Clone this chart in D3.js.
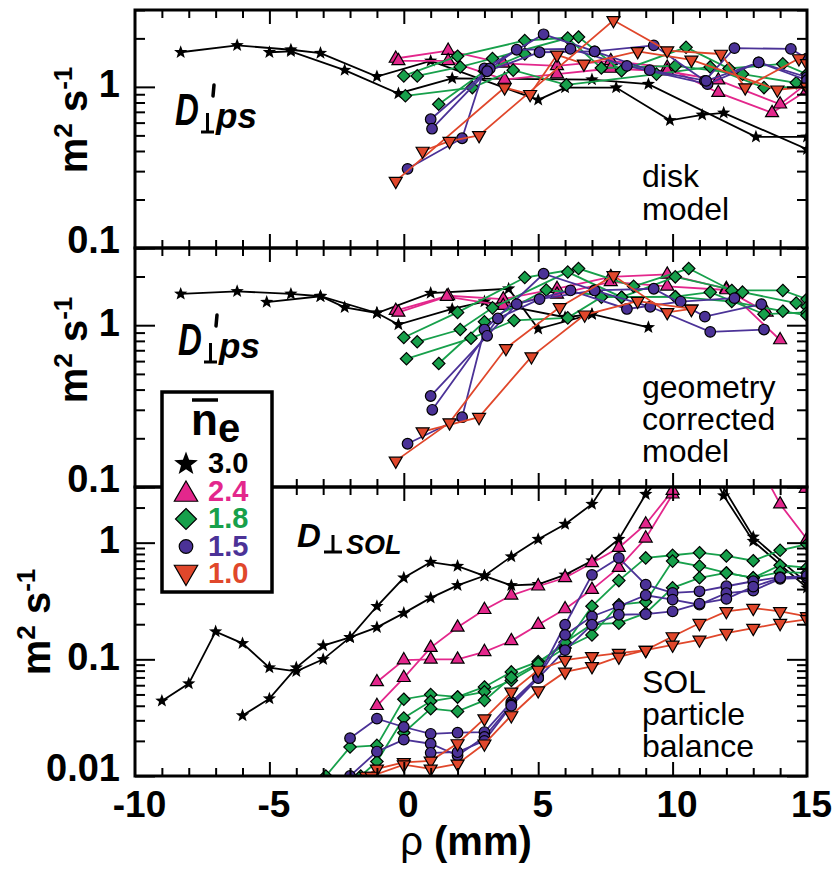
<!DOCTYPE html>
<html>
<head>
<meta charset="utf-8">
<script src="https://cdn.jsdelivr.net/npm/d3@7"></script>
<style>
  body { margin: 0; background: #fff; }
  svg { display: block; font-family: "Liberation Sans", Arial, Helvetica, sans-serif; }
</style>
</head>
<body>
<svg id="chart" width="839" height="874"></svg>
<script>
// line-averaged density of each group, in legend order
const densities = ['3.0', '2.4', '1.8', '1.5', '1.0'];
const xTicks = [-10, -5, 0, 5, 10, 15];

// --- disk model panel: [rho (mm), D (m^2/s)] ---
const disk30 = [
  [[-8.3, 1.64], [-6.2, 1.81], [-4.2, 1.70], [-3.1, 1.62], [-1.0, 1.16], [1.0, 1.45], [5.0, 0.83], [6.0, 0.99], [7.9, 0.99], [9.9, 0.62], [11.1, 0.67], [11.9, 0.69], [15, 0.41]],
  [[-5.0, 1.64], [-4.2, 1.66], [-2.2, 1.27], [-0.2, 0.91], [1.8, 1.13], [7.0, 1.11], [9.1, 1.04], [13.1, 0.49], [15, 0.49]]
];
const disk24 = [
  [[-0.3, 1.50], [1.65, 1.68], [3.7, 1.40], [5.7, 1.35], [7.7, 1.45], [9.8, 1.32], [11.7, 0.92], [13.7, 0.69], [15, 0.95]],
  [[-0.2, 1.45], [1.65, 1.45], [3.75, 1.11], [5.7, 1.20], [7.7, 1.30], [9.8, 1.25], [11.7, 1.10], [14.0, 0.78], [15, 1.05]]
];
const disk18 = [
  [[0, 1.17], [2.0, 1.55], [4.5, 1.94], [6.5, 2.04], [8.1, 1.26], [10.5, 1.76], [12.1, 1.30], [14.1, 1.39], [15, 1.2]],
  [[0.5, 1.17], [2.1, 1.33], [3.3, 1.50], [6.1, 2.01], [7.35, 1.31], [10.1, 1.35], [12.6, 1.20], [14.6, 1.06], [15, 1.05]],
  [[0.06, 0.88], [2.55, 0.99], [4.07, 1.27], [6.05, 1.03], [9.4, 1.20], [11.4, 1.33], [13.4, 0.99], [15, 1.0]],
  [[1.3, 0.78], [3.0, 1.25], [4.5, 1.6]]
];
const disk15 = [
  [[0.14, 0.31], [2.17, 0.48], [3.0, 1.30], [5.2, 2.12], [7.1, 1.66], [9.3, 1.81], [11.2, 1.09], [12.3, 1.74], [14.4, 1.72], [15, 1.5]],
  [[1.0, 0.63], [3.2, 1.3], [4.2, 1.70], [6.2, 1.72], [8.3, 1.35], [11.3, 1.04], [13.2, 1.42], [15, 1.15]],
  [[1.05, 0.55], [3.1, 1.25], [5.05, 1.64], [7.1, 1.66], [9.15, 1.27], [11.25, 1.09], [13.2, 1.42], [15, 1.1]]
];
const disk10 = [
  [[0.7, 0.40], [1.7, 0.46], [2.8, 0.50], [7.8, 2.59], [9.8, 1.68], [11.8, 1.60], [12.7, 0.99], [14.7, 1.50], [15, 1.4]],
  [[-0.3, 0.26], [3.75, 0.99], [4.7, 0.90], [5.7, 1.58], [6.7, 1.39], [8.7, 1.66], [10.7, 1.47], [13.9, 0.96], [15, 1.0]]
];

// --- geometry corrected model panel ---
const geom30 = [
  [[-8.3, 1.56], [-6.2, 1.62], [-4.2, 1.56], [-3.1, 1.51], [-2.2, 1.29], [-1.0, 1.19], [1.0, 1.58], [3.9, 1.68], [5.0, 0.95], [7.0, 1.17], [9.1, 0.97]],
  [[-5.1, 1.39], [-3.1, 1.51], [-1.0, 1.19], [-0.2, 1.01], [1.8, 1.26], [3.0, 1.40], [6.0, 1.12], [7.0, 1.17]]
];
const geom24 = [
  [[-0.3, 1.23], [1.65, 1.52], [3.7, 1.45], [5.7, 1.68], [7.7, 1.99], [9.8, 2.06], [12.0, 1.68], [14.0, 0.81]],
  [[-0.2, 1.20], [1.6, 1.50], [3.7, 1.32], [5.7, 1.55], [7.7, 1.85], [9.8, 1.74], [12.0, 1.65], [13.5, 1.2]]
];
const geom18 = [
  [[0, 0.84], [2.0, 1.20], [4.5, 1.97], [6.5, 2.24], [8.55, 1.74], [10.6, 2.24], [12.2, 1.64], [14.1, 1.64], [15, 1.45]],
  [[0.5, 0.79], [2.1, 0.94], [3.3, 1.28], [6.1, 2.13], [8.1, 1.49], [10.1, 1.99], [12.6, 1.60], [14.6, 1.37], [15, 1.3]],
  [[0.1, 0.62], [2.5, 0.83], [4.1, 1.07], [6.1, 1.11], [7.35, 1.49], [10.1, 1.50], [11.4, 1.60], [13.4, 1.17], [15, 1.2]],
  [[1.3, 0.58], [3.0, 1.05], [5.3, 1.65], [8.1, 1.49], [10.1, 1.5], [12.2, 1.4], [14.1, 1.22], [15, 1.15]]
];
const geom15 = [
  [[0.14, 0.185], [2.17, 0.27], [3.0, 0.94], [5.2, 2.08], [7.1, 1.64], [9.3, 1.68], [11.2, 1.13], [13.3, 1.35]],
  [[1.0, 0.365], [3.1, 0.86], [4.2, 1.35], [6.2, 1.64], [8.3, 1.26], [10.3, 1.40], [12.3, 1.47]],
  [[1.06, 0.30], [3.5, 1.10], [5.05, 1.45], [7.1, 1.64], [9.17, 1.30], [11.4, 0.91], [13.4, 0.94]]
];
const geom10 = [
  [[-0.3, 0.145], [1.7, 0.25], [3.8, 0.72], [5.8, 1.29], [7.8, 2.03], [9.8, 1.20], [10.7, 1.26]],
  [[0.7, 0.22], [2.8, 0.27], [4.75, 0.64], [6.73, 1.16], [8.7, 1.41], [10.7, 1.26]]
];

// --- SOL particle balance panel ---
const sol30 = [
  [[-9.0, 0.044], [-8.0, 0.062], [-7.0, 0.173], [-6.0, 0.137], [-5.0, 0.085], [-4.0, 0.079], [-3.0, 0.10], [-2.0, 0.154], [-1.0, 0.285], [0, 0.50], [1.0, 0.68], [2.0, 0.63], [3.0, 0.52], [4.0, 0.43], [5.0, 0.44], [6.0, 0.53], [7.0, 0.70], [8.0, 1.07], [9.0, 2.6], [9.5, 3.5]],
  [[-6.0, 0.033], [-5.0, 0.046], [-4.0, 0.085], [-3.0, 0.131], [-2.0, 0.154], [-1.0, 0.188], [0, 0.249], [1.0, 0.336], [2.0, 0.43], [3.0, 0.52], [4.0, 0.76], [5.0, 1.07], [6.0, 1.44], [7.0, 2.14], [7.6, 3.5]],
  [[11.6, 3.5], [11.9, 2.53], [13.0, 1.03], [15, 0.41]],
  [[11.7, 3.5], [13.0, 1.12], [15, 0.45]]
];
const sol24 = [
  [[-1.0, 0.064], [0, 0.0986], [1.0, 0.1], [2.0, 0.1], [3.0, 0.116], [4.0, 0.144], [5.0, 0.198], [6.0, 0.27], [7.0, 0.396], [8.0, 0.61], [9.0, 1.09], [10.0, 2.6], [10.2, 3.5]],
  [[-1.0, 0.040], [0, 0.0695], [1.0, 0.126], [2.0, 0.188], [3.0, 0.266], [4.0, 0.354], [5.0, 0.423], [6.0, 0.50], [7.0, 0.67], [8.0, 0.905], [9.0, 1.44], [10.0, 2.79], [10.1, 3.5]],
  [[13.5, 3.5], [14.0, 2.14], [15.0, 1.07]],
  [[14.95, 2.9]]
];
const sol18 = [
  [[-2.9, 0.01], [-2.0, 0.0177], [-1.0, 0.0183], [0, 0.0455], [1.0, 0.0499], [2.0, 0.0476], [3.0, 0.058], [4.0, 0.078], [5.0, 0.0955], [6.0, 0.133], [7.0, 0.285], [8.0, 0.473], [9.0, 0.74], [10, 0.78], [11, 0.82], [12, 0.77], [13, 0.70], [14, 0.86], [15, 0.97]],
  [[-1.6, 0.01], [-1.0, 0.0133], [0, 0.0314], [1.0, 0.0437], [2.0, 0.0476], [3.0, 0.0527], [4.0, 0.066], [5.0, 0.09], [6.0, 0.125], [7.0, 0.162], [8.0, 0.294], [9.0, 0.31], [10, 0.695], [11, 0.63], [12, 0.55], [13, 0.5], [14, 0.64], [15, 0.61]],
  [[0, 0.0235], [1.0, 0.0378], [2.0, 0.0358], [3.0, 0.0445], [4.0, 0.07], [5.0, 0.092], [6.0, 0.14], [7.0, 0.2], [8.0, 0.204], [9.0, 0.249], [10, 0.41], [11, 0.5], [12, 0.55], [13, 0.5], [14, 0.56], [15, 0.55]]
];
const sol15 = [
  [[-2.0, 0.0211], [-1.0, 0.031], [0, 0.0263], [1.0, 0.023], [2.0, 0.0235], [3.0, 0.0238], [4.0, 0.043], [5.0, 0.071], [6.0, 0.198], [7.0, 0.53], [8.0, 0.74], [9.0, 0.437], [10, 0.371], [11, 0.383], [12, 0.423], [13, 0.467], [14, 0.506], [15, 0.51]],
  [[-2.0, 0.01], [-1.0, 0.0162], [0, 0.0205], [1.0, 0.0189], [2.0, 0.015], [3.0, 0.0216], [4.0, 0.041], [5.0, 0.07], [6.0, 0.162], [7.0, 0.233], [8.0, 0.285], [9.0, 0.354], [10, 0.325], [11, 0.294], [12, 0.37], [13, 0.388], [14, 0.49], [15, 0.5]],
  [[1.0, 0.0158], [2.0, 0.016], [3.0, 0.02], [4.0, 0.04], [5.0, 0.069], [6.0, 0.12], [7.0, 0.198], [8.0, 0.241], [9.0, 0.244], [10, 0.258], [11, 0.30], [12, 0.33], [13, 0.42], [14, 0.5], [15, 0.52]]
];
const sol10 = [
  [[-1.4, 0.01], [-1.0, 0.0115], [0, 0.0131], [1.0, 0.0135], [2.0, 0.019], [3.0, 0.031], [4.0, 0.0526], [5.0, 0.081], [6.0, 0.0986], [7.0, 0.106], [8.0, 0.113], [9.0, 0.12], [10, 0.157], [11, 0.204], [12, 0.258], [13, 0.275], [14, 0.258], [15, 0.233]],
  [[-1.2, 0.01], [0, 0.0125], [1.0, 0.0115], [2.0, 0.0127], [3.0, 0.0189], [4.0, 0.033], [5.0, 0.054], [6.0, 0.078], [7.0, 0.087], [8.0, 0.105], [9.0, 0.12], [10, 0.133], [11, 0.147], [12, 0.168], [13, 0.185], [14, 0.204], [15, 0.22]]
];

// styles per density group
const colors = ['#000000', '#e3278c', '#17a04b', '#4b3297', '#e0472b'];
const shapes = ['star', 'triUp', 'diamond', 'circle', 'triDown'];
const plotSize = { star: 7, triUp: 7.5, diamond: 6.2, circle: 5.3, triDown: 7.5 };
const legendSize = { star: 12.5, triUp: 13.5, diamond: 10.5, circle: 6.8, triDown: 13.5 };

const panels = [
  { id: 'disk', top: 10, bottom: 248, domain: [0.1, 3], groups: [disk30, disk24, disk18, disk15, disk10],
    notes: ['disk', 'model'], noteY: 187, noteGap: 33, titleX: 87, titleY: 120 },
  { id: 'geom', top: 248, bottom: 487, domain: [0.1, 3], groups: [geom30, geom24, geom18, geom15, geom10],
    notes: ['geometry', 'corrected', 'model'], noteY: 398, noteGap: 32, titleX: 87, titleY: 350 },
  { id: 'sol', top: 487, bottom: 776, domain: [0.01, 3], groups: [sol30, sol24, sol18, sol15, sol10],
    notes: ['SOL', 'particle', 'balance'], noteY: 693, noteGap: 32, titleX: 50, titleY: 622 }
];

const svg = d3.select('#chart');
const defs = svg.append('defs');
const x = d3.scaleLinear().domain([-10, 15]).range([135, 807]);
const [x0, x1] = x.range();

const markerPath = (shape, r) => {
  if (shape === 'star') {
    const pts = d3.range(10).map(i => {
      const a = -Math.PI / 2 + i * Math.PI / 5;
      const rr = i % 2 ? r * 0.42 : r;
      return [rr * Math.cos(a), rr * Math.sin(a)];
    });
    return 'M' + pts.join('L') + 'Z';
  }
  if (shape === 'triUp') return `M0,${-r}L${r * 0.866},${r * 0.5}L${-r * 0.866},${r * 0.5}Z`;
  if (shape === 'triDown') return `M0,${r}L${r * 0.866},${-r * 0.5}L${-r * 0.866},${-r * 0.5}Z`;
  if (shape === 'diamond') return `M0,${-r}L${r},0L0,${r}L${-r},0Z`;
  return `M${r},0A${r},${r} 0 1,1 ${-r},0A${r},${r} 0 1,1 ${r},0Z`;
};

const drawMarker = (sel, i, r) => sel
  .attr('d', markerPath(shapes[i], r))
  .attr('fill', colors[i])
  .attr('stroke', i === 0 ? 'none' : '#000')
  .attr('stroke-width', 1.2);

const isDecade = v => Math.abs(Math.log10(v) - Math.round(Math.log10(v))) < 1e-6;
const xMinor = d3.range(-9, 15).filter(v => v % 5 !== 0);
const xMajor = [-5, 0, 5, 10];

const tickGroup = (axis, tx, ty) => svg.append('g')
  .attr('transform', `translate(${tx},${ty})`)
  .call(axis)
  .call(g => g.select('.domain').remove())
  .call(g => g.selectAll('text').remove())
  .call(g => g.selectAll('line').attr('stroke-width', 2));

panels.forEach(p => {
  const y = d3.scaleLog().domain(p.domain).range([p.bottom, p.top]);
  const yMajor = y.ticks().filter(isDecade);
  const yMinor = y.ticks().filter(v => !isDecade(v));

  defs.append('clipPath').attr('id', `clip-${p.id}`)
    .append('rect').attr('x', x0).attr('y', p.top).attr('width', x1 - x0).attr('height', p.bottom - p.top);

  const plot = svg.append('g').attr('clip-path', `url(#clip-${p.id})`);
  const line = d3.line().x(d => x(d[0])).y(d => y(d[1]));

  p.groups.forEach((group, i) => {
    const g = plot.append('g');
    g.selectAll('path.line').data(group).enter().append('path')
      .attr('class', 'line')
      .attr('d', line)
      .attr('fill', 'none')
      .attr('stroke', colors[i])
      .attr('stroke-width', 1.8);
    g.selectAll('path.mark').data(group.flat()).enter().append('path')
      .attr('class', 'mark')
      .attr('transform', d => `translate(${x(d[0])},${y(d[1])})`)
      .call(sel => drawMarker(sel, i, plotSize[shapes[i]]));
  });

  // inward ticks on all four sides
  tickGroup(d3.axisRight(y).tickValues(yMajor).tickSize(20), x0, 0);
  tickGroup(d3.axisRight(y).tickValues(yMinor).tickSize(10), x0, 0);
  tickGroup(d3.axisLeft(y).tickValues(yMajor).tickSize(20), x1, 0);
  tickGroup(d3.axisLeft(y).tickValues(yMinor).tickSize(10), x1, 0);
  tickGroup(d3.axisTop(x).tickValues(xMajor).tickSize(14), 0, p.bottom);
  tickGroup(d3.axisTop(x).tickValues(xMinor).tickSize(8), 0, p.bottom);
  tickGroup(d3.axisBottom(x).tickValues(xMajor).tickSize(14), 0, p.top);
  tickGroup(d3.axisBottom(x).tickValues(xMinor).tickSize(8), 0, p.top);

  svg.append('rect')
    .attr('x', x0).attr('y', p.top)
    .attr('width', x1 - x0).attr('height', p.bottom - p.top)
    .attr('fill', 'none').attr('stroke', '#000').attr('stroke-width', 3);

  // y tick labels
  svg.append('g')
    .attr('transform', `translate(${x0},0)`)
    .call(d3.axisLeft(y).tickValues(yMajor).tickSize(0).tickPadding(15).tickFormat(d => String(d)))
    .call(g => g.select('.domain').remove())
    .call(g => g.selectAll('text')
      .attr('dy', null)
      .attr('y', d => d === p.domain[0] ? 4 : 10)
      .attr('font-size', 38)
      .attr('font-weight', 'bold')
      .attr('font-family', '"Liberation Sans", Arial, sans-serif')
      .attr('fill', '#000'));

  // y title
  const t = svg.append('text')
    .attr('transform', `translate(${p.titleX},${p.titleY}) rotate(-90)`)
    .attr('text-anchor', 'middle')
    .attr('font-size', 40)
    .attr('font-weight', 'bold');
  t.append('tspan').text('m');
  t.append('tspan').attr('dy', -15).attr('font-size', 26).text('2');
  t.append('tspan').attr('dy', 15).text(' s');
  t.append('tspan').attr('dy', -15).attr('font-size', 26).text('-1');

  // annotation in lower right
  p.notes.forEach((s, k) => {
    svg.append('text')
      .attr('x', 642).attr('y', p.noteY + k * p.noteGap)
      .attr('font-size', 32)
      .text(s);
  });
});

// x tick labels and title
svg.append('g')
  .attr('transform', `translate(0,776)`)
  .call(d3.axisBottom(x).tickValues(xTicks).tickSize(0).tickPadding(15).tickFormat(d => String(d)))
  .call(g => g.select('.domain').remove())
  .call(g => g.selectAll('text')
    .attr('dx', 4)
    .attr('font-size', 37)
    .attr('font-weight', 'bold')
    .attr('font-family', '"Liberation Sans", Arial, sans-serif')
    .attr('fill', '#000'));

const xt = svg.append('text')
  .attr('x', 466).attr('y', 855)
  .attr('text-anchor', 'middle')
  .attr('font-size', 40);
xt.append('tspan').text('ρ');
xt.append('tspan').attr('font-weight', 'bold').text(' (mm)');

// panel labels D'⊥ps and D⊥SOL
const drawDps = (dx, dy) => {
  svg.append('text')
    .attr('transform', `translate(${dx},${dy}) scale(0.75,1)`)
    .attr('font-size', 44).attr('font-weight', 'bold').attr('font-style', 'italic')
    .text('D');
  // prime
  svg.append('path')
    .attr('d', `M${dx + 39},${dy - 40}L${dx + 38},${dy - 29}`)
    .attr('stroke', '#000').attr('stroke-width', 3.5).attr('stroke-linecap', 'round');
  // perpendicular sign
  svg.append('path')
    .attr('d', `M${dx + 32.5},${dy - 12}V${dy + 7}M${dx + 26},${dy + 7}H${dx + 39}`)
    .attr('stroke', '#000').attr('stroke-width', 3).attr('fill', 'none');
  svg.append('text')
    .attr('x', dx + 41).attr('y', dy + 3)
    .attr('font-size', 35).attr('font-weight', 'bold').attr('font-style', 'italic')
    .text('ps');
};
drawDps(175, 125);
drawDps(178, 355);

svg.append('text')
  .attr('x', 297).attr('y', 547)
  .attr('font-size', 33).attr('font-weight', 'bold').attr('font-style', 'italic')
  .text('D');
svg.append('path')
  .attr('d', 'M333,535V552M324,552H342')
  .attr('stroke', '#000').attr('stroke-width', 3).attr('fill', 'none');
svg.append('text')
  .attr('x', 346).attr('y', 554)
  .attr('font-size', 27).attr('font-weight', 'bold').attr('font-style', 'italic')
  .text('SOL');

// legend
const legend = svg.append('g');
legend.append('rect')
  .attr('x', 162).attr('y', 392).attr('width', 110).attr('height', 200)
  .attr('fill', '#fff').attr('stroke', '#000').attr('stroke-width', 3.5);
legend.append('text')
  .attr('x', 191).attr('y', 435)
  .attr('font-size', 44).attr('font-weight', 'bold')
  .text('n');
legend.append('line')
  .attr('x1', 192).attr('x2', 218).attr('y1', 400).attr('y2', 400)
  .attr('stroke', '#000').attr('stroke-width', 3.5);
legend.append('text')
  .attr('x', 218).attr('y', 442)
  .attr('font-size', 40).attr('font-weight', 'bold')
  .text('e');

const rows = legend.selectAll('g.row').data(densities).enter().append('g')
  .attr('class', 'row')
  .attr('transform', (d, i) => `translate(0,${i * 27.5})`);
rows.append('path')
  .attr('transform', (d, i) => `translate(186,${shapes[i] === 'triUp' ? 467 : shapes[i] === 'triDown' ? 462 : 464})`)
  .each(function (d, i) { drawMarker(d3.select(this), i, legendSize[shapes[i]]); });
rows.append('text')
  .attr('x', 208).attr('y', 473)
  .attr('font-size', 29).attr('font-weight', 'bold')
  .attr('fill', (d, i) => colors[i])
  .text(d => d);
</script>
</body>
</html>
